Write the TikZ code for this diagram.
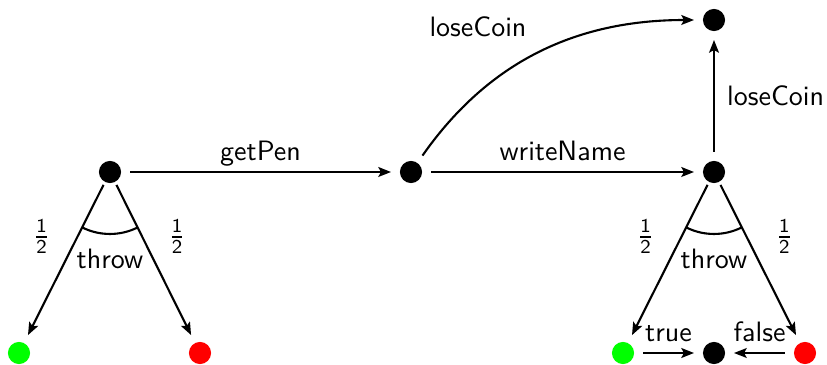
\documentclass[tikz,border=0pt]{standalone}
\usetikzlibrary{arrows.meta,calc}
\begin{document}
\begin{tikzpicture}[x=0.357pt,y=0.357pt,font=\sffamily,
  dot/.style={circle,fill=#1,minimum size=7.9pt,inner sep=0pt},
  dot/.default=black,
  arr/.style={-{Stealth[length=4.5pt,width=3.5pt,inset=0.9pt]},line width=0.75pt,
              shorten <=3pt,shorten >=3pt},
  lbl/.style={above,inner sep=1.6pt,text depth=2pt},
  half/.style={pos=0.34},
  anglearc/.style={line width=0.75pt}]
\useasboundingbox (0,0) rectangle (827,364);
% states
\node[dot] (A) at (110,192) {};
\node[dot] (B) at (411,192) {};
\node[dot] (C) at (714,192) {};
\node[dot] (D) at (714,344) {};
\node[dot=green] (g1) at (19,11) {};
\node[dot=red]   (r1) at (200,11) {};
\node[dot=green] (g2) at (623,11) {};
\node[dot]       (k2) at (714,11) {};
\node[dot=red]   (r2) at (805,11) {};
% main transitions
\draw[arr] (A) -- node[lbl] {getPen} (B);
\draw[arr] (B) -- node[lbl] {writeName} (C);
\draw[arr] (B) to[out=55,in=180]
  node[pos=0.5,inner sep=1.6pt,text depth=2pt,anchor=south east,xshift=-2.9pt,yshift=1.8pt] {loseCoin} (D);
\draw[arr] (C) -- node[right,xshift=1pt] {loseCoin} (D);
% probabilistic throw on the left
\draw[arr,shorten <=1pt] (A) -- node[half,left=6pt] {$\frac{\mathsf{1}}{\mathsf{2}}$} (g1);
\draw[arr,shorten <=1pt] (A) -- node[half,right=5.7pt] {$\frac{\mathsf{1}}{\mathsf{2}}$} (r1);
\draw[anglearc] (A) ++(-116.5:62) arc[start angle=-116.5,end angle=-63.5,radius=22.1pt];
\node (t1) at (110,105.5) {throw};
% probabilistic throw on the right
\draw[arr,shorten <=1pt] (C) -- node[half,left=6pt] {$\frac{\mathsf{1}}{\mathsf{2}}$} (g2);
\draw[arr,shorten <=1pt] (C) -- node[half,right=6.7pt] {$\frac{\mathsf{1}}{\mathsf{2}}$} (r2);
\draw[anglearc] (C) ++(-116.5:62) arc[start angle=-116.5,end angle=-63.5,radius=22.1pt];
\node (t2) at (714,105.5) {throw};
% outcomes
\draw[arr] (g2) -- node[lbl] {true} (k2);
\draw[arr] (r2) -- node[lbl] {false} (k2);
\end{tikzpicture}
\end{document}
